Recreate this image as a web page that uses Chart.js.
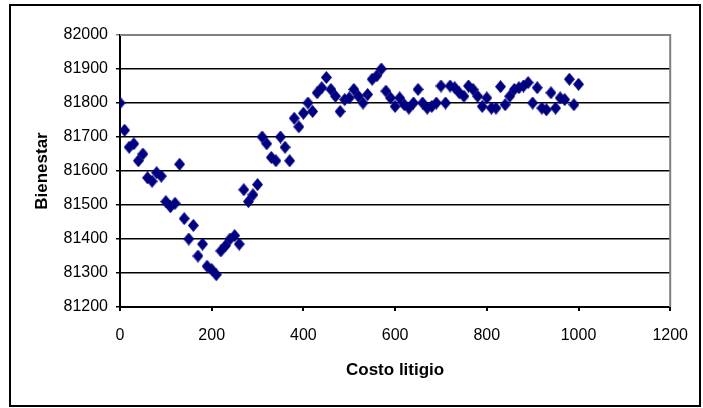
<!DOCTYPE html>
<html>
<head>
<meta charset="utf-8">
<script src="https://cdn.jsdelivr.net/npm/chart.js@4/dist/chart.umd.min.js"></script>
<style>
  body { margin: 0; background: #fff; }
  canvas { display: block; }
</style>
</head>
<body>
<canvas id="chart" width="703" height="408"></canvas>
<script>
// Costo litigio (x) and Bienestar (y)
const costo = [
  0, 10, 20, 30, 40, 50, 60, 70, 80, 90,
  100, 110, 120, 130, 140, 150, 160, 170, 180, 190,
  200, 210, 220, 230, 240, 250, 260, 270, 280, 290,
  300, 310, 320, 330, 340, 350, 360, 370, 380, 390,
  400, 410, 420, 430, 440, 450, 460, 470, 480, 490,
  500, 510, 520, 530, 540, 550, 560, 570, 580, 590,
  600, 610, 620, 630, 640, 650, 660, 670, 680, 690,
  700, 710, 720, 730, 740, 750, 760, 770, 780, 790,
  800, 810, 820, 830, 840, 850, 860, 870, 880, 890,
  900, 910, 920, 930, 940, 950, 960, 970, 980, 990,
  1000
];
const bienestar = [
  81800, 81720, 81670, 81680, 81630, 81650, 81580, 81570, 81595, 81585,
  81510, 81495, 81505, 81620, 81460, 81400, 81440, 81350, 81385, 81320,
  81310, 81295, 81365, 81380, 81400, 81410, 81385, 81545, 81510, 81530,
  81560, 81700, 81680, 81640, 81630, 81700, 81670, 81630, 81755, 81730,
  81770, 81800, 81775, 81830, 81845, 81875, 81840, 81820, 81775, 81810,
  81815, 81840, 81820, 81800, 81825, 81870, 81880, 81900, 81835, 81815,
  81790, 81815, 81795, 81785, 81800, 81840, 81800, 81785, 81790, 81800,
  81850, 81800, 81850, 81845, 81830, 81820, 81850, 81840, 81820, 81790,
  81815, 81785, 81785, 81848, 81795, 81820, 81840, 81845, 81850, 81860,
  81800, 81845, 81785, 81780, 81830, 81785, 81815, 81810, 81870, 81795,
  81855
];
const xTicks = [0, 200, 400, 600, 800, 1000, 1200];
const yTicks = [81200, 81300, 81400, 81500, 81600, 81700, 81800, 81900, 82000];

const points = costo.map((c, i) => ({ x: c, y: bienestar[i] }));

// slightly tall diamond marker, like the spreadsheet one
const marker = document.createElement("canvas");
marker.width = 11;
marker.height = 13;
const mctx = marker.getContext("2d");
mctx.fillStyle = "#000080";
mctx.beginPath();
mctx.moveTo(5.5, 0);
mctx.lineTo(11, 6.5);
mctx.lineTo(5.5, 13);
mctx.lineTo(0, 6.5);
mctx.closePath();
mctx.fill();

const frame = {
  id: "frame",
  beforeDatasetsDraw(chart) {
    const { ctx, chartArea: a } = chart;
    ctx.save();
    ctx.strokeStyle = "#808080";
    ctx.lineWidth = 2;
    ctx.beginPath();
    ctx.moveTo(a.left, a.top);
    ctx.lineTo(a.right, a.top);
    ctx.lineTo(a.right, a.bottom);
    ctx.stroke();
    ctx.restore();
  },
  afterDraw(chart) {
    const ctx = chart.ctx;
    ctx.save();
    ctx.strokeStyle = "#000";
    ctx.lineWidth = 2;
    ctx.strokeRect(10, 5, 690, 401);
    ctx.restore();
  }
};

const family = "'Liberation Sans', Arial, sans-serif";
const tickFont = { family: family, size: 16 };
const titleFont = { family: family, size: 17, weight: "bold" };

new Chart(document.getElementById("chart"), {
  type: "scatter",
  data: {
    datasets: [{
      data: points,
      pointStyle: marker,
      pointRadius: 6,
      pointHoverRadius: 6
    }]
  },
  options: {
    responsive: false,
    animation: false,
    layout: { padding: { left: 10, top: 35, right: 28, bottom: 0 } },
    plugins: { legend: { display: false }, tooltip: { enabled: false } },
    scales: {
      x: {
        type: "linear",
        min: 0,
        max: 1200,
        afterBuildTicks: (s) => { s.ticks = xTicks.map(v => ({ value: v })); },
        afterFit: (s) => { s.height = 101; },
        grid: { drawOnChartArea: false, drawTicks: true, tickLength: 4, color: "#000", lineWidth: 2 },
        border: { color: "#000", width: 2 },
        ticks: { color: "#000", font: tickFont, padding: 15, maxRotation: 0, callback: (v) => String(v) },
        title: {
          display: true,
          text: "Costo litigio",
          color: "#000",
          font: titleFont,
          padding: { top: 0, bottom: 27 }
        }
      },
      y: {
        min: 81200,
        max: 82000,
        afterBuildTicks: (s) => { s.ticks = yTicks.map(v => ({ value: v })); },
        afterFit: (s) => { s.width = 110; },
        grid: {
          drawTicks: true,
          tickLength: 4,
          color: (c) => c.tick && c.tick.value === 82000 ? "#808080" : "#000",
          lineWidth: 1.5
        },
        border: { color: "#000", width: 2 },
        ticks: { color: "#000", font: tickFont, padding: 8, callback: (v) => String(v) },
        title: {
          display: true,
          text: "Bienestar",
          color: "#000",
          font: titleFont,
          padding: { top: 22, bottom: 0 }
        }
      }
    }
  },
  plugins: [frame]
});
</script>
</body>
</html>
